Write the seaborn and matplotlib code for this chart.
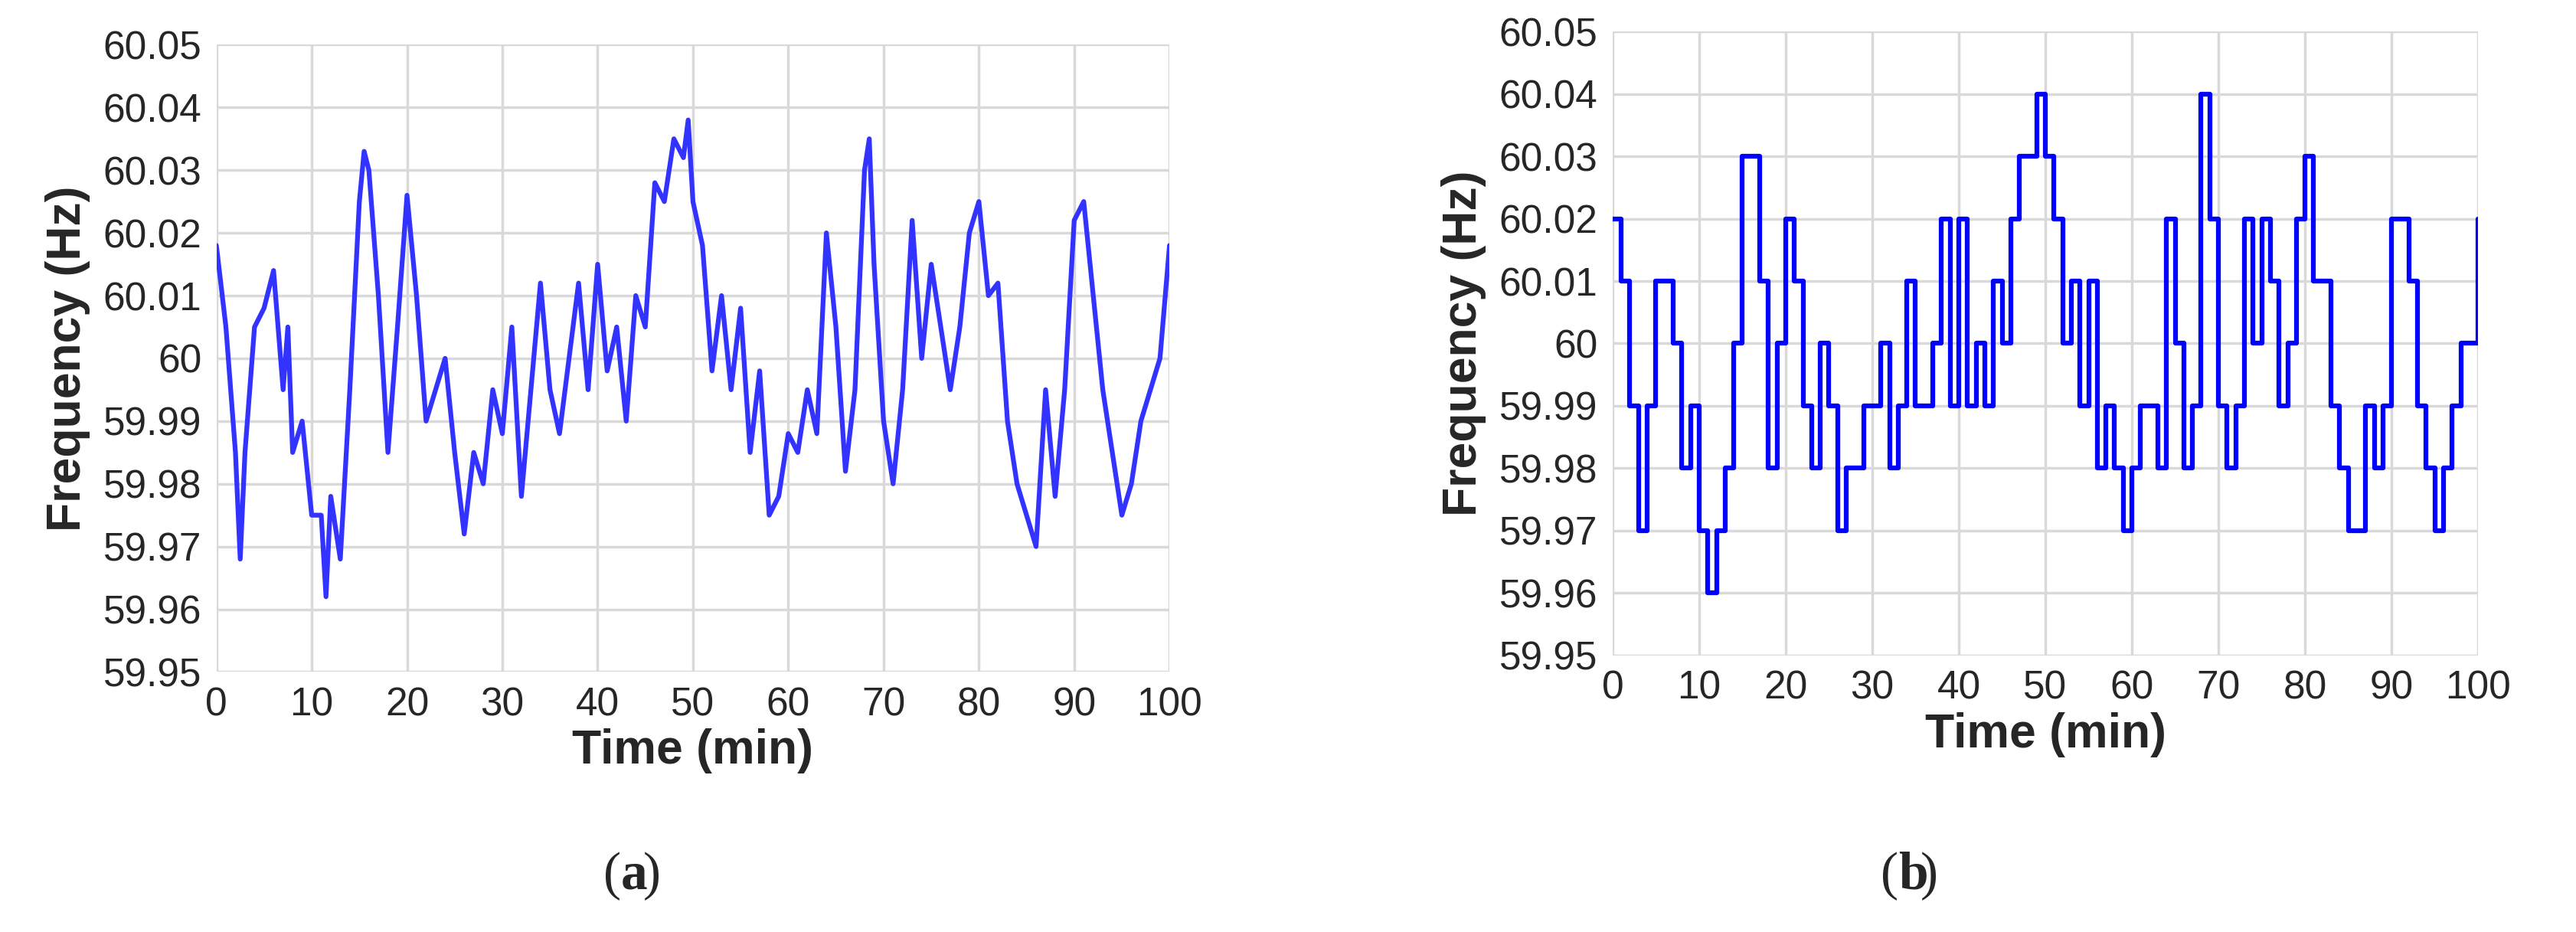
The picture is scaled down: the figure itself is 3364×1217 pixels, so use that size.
import numpy as np
import pandas as pd
import matplotlib
matplotlib.use("Agg")
import matplotlib.pyplot as plt
import seaborn as sns
from matplotlib.ticker import FuncFormatter, MultipleLocator

# ---- data ----
time_a = [0,1,2,2.5,3,4,5,6,7,7.5,8,9,10,11,11.5,12,13,14,15,15.5,16,17,18,19,20,21,22,23,24,25,26,27,28,29,30,
          31,32,33,34,35,36,37,38,39,40,41,42,43,44,45,46,47,48,49,49.5,50,51,52,53,54,55,56,57,58,59,60,
          61,62,63,64,65,66,67,68,68.5,69,70,71,72,73,74,75,76,77,78,79,80,81,82,83,84,85,86,87,88,89,90,
          91,92,93,94,95,96,97,98,99,100]
freq_a = [60.018,60.005,59.985,59.968,59.985,60.005,60.008,60.014,59.995,60.005,59.985,59.990,59.975,59.975,59.962,
          59.978,59.968,59.995,60.025,60.033,60.030,60.010,59.985,60.005,60.026,60.010,59.990,59.995,60.000,59.985,
          59.972,59.985,59.980,59.995,59.988,60.005,59.978,59.995,60.012,59.995,59.988,60.000,60.012,59.995,60.015,
          59.998,60.005,59.990,60.010,60.005,60.028,60.025,60.035,60.032,60.038,60.025,60.018,59.998,60.010,59.995,
          60.008,59.985,59.998,59.975,59.978,59.988,59.985,59.995,59.988,60.020,60.005,59.982,59.995,60.030,60.035,
          60.015,59.990,59.980,59.995,60.022,60.000,60.015,60.005,59.995,60.005,60.020,60.025,60.010,60.012,59.990,
          59.980,59.975,59.970,59.995,59.978,59.995,60.022,60.025,60.010,59.995,59.985,59.975,59.980,59.990,59.995,
          60.000,60.018]

time_b = list(range(0, 101))
freq_b = [60.02,60.01,59.99,59.97,59.99,60.01,60.01,60.00,59.98,59.99,59.97,59.96,59.97,59.98,60.00,60.03,60.03,
          60.01,59.98,60.00,60.02,60.01,59.99,59.98,60.00,59.99,59.97,59.98,59.98,59.99,59.99,60.00,59.98,59.99,
          60.01,59.99,59.99,60.00,60.02,59.99,60.02,59.99,60.00,59.99,60.01,60.00,60.02,60.03,60.03,60.04,60.03,
          60.02,60.00,60.01,59.99,60.01,59.98,59.99,59.98,59.97,59.98,59.99,59.99,59.98,60.02,60.00,59.98,59.99,
          60.04,60.02,59.99,59.98,59.99,60.02,60.00,60.02,60.01,59.99,60.00,60.02,60.03,60.01,60.01,59.99,59.98,
          59.97,59.97,59.99,59.98,59.99,60.02,60.02,60.01,59.99,59.98,59.97,59.98,59.99,60.00,60.00,60.02]

x_label = "Time (min)"
y_label = "Frequency (Hz)"
panel_labels = ["a", "b"]

# ---- style ----
sns.set_theme(style="white")
plt.rcParams["font.family"] = ["Liberation Sans", "DejaVu Sans"]

fig = plt.figure(figsize=(33.64, 12.17), dpi=100)
ax1 = fig.add_axes([0.084, 0.279, 0.370, 0.673])
ax2 = fig.add_axes([0.626, 0.297, 0.336, 0.669])

df_a = pd.DataFrame({"t": time_a, "f": freq_a})
df_b = pd.DataFrame({"t": time_b, "f": freq_b})
sns.lineplot(data=df_a, x="t", y="f", ax=ax1, color="#3333ff", linewidth=4.5)
sns.lineplot(data=df_b, x="t", y="f", ax=ax2, color="#0000ff", linewidth=4.5, drawstyle="steps-post")

fmt = FuncFormatter(lambda v, p: (f"{v:.2f}").rstrip("0").rstrip("."))
for ax in (ax1, ax2):
    ax.set_xlim(0, 100)
    ax.set_ylim(59.95, 60.05)
    ax.xaxis.set_major_locator(MultipleLocator(10))
    ax.yaxis.set_major_locator(MultipleLocator(0.01))
    ax.yaxis.set_major_formatter(fmt)
    ax.grid(True, color="#d9d9d9", linewidth=2.5)
    for s in ax.spines.values():
        s.set_visible(False)
    ax.tick_params(labelsize=37, length=0, pad=14)
    ax.set_xlabel(x_label, fontsize=45, fontweight="bold", labelpad=4)
    ax.set_ylabel(y_label, fontsize=45, fontweight="bold", labelpad=12)

for xc, lab in ((0.241, panel_labels[0]), (0.737, panel_labels[1])):
    fig.text(xc, 0.06, "(", fontsize=50, family="Liberation Serif", ha="right", va="center")
    fig.text(xc, 0.06, lab, fontsize=50, family="Liberation Serif", fontweight="bold", ha="left", va="center")
    fig.text(xc + 0.0085, 0.06, ")", fontsize=50, family="Liberation Serif", ha="left", va="center")

fig.savefig("out.png", dpi=100, facecolor="white")
